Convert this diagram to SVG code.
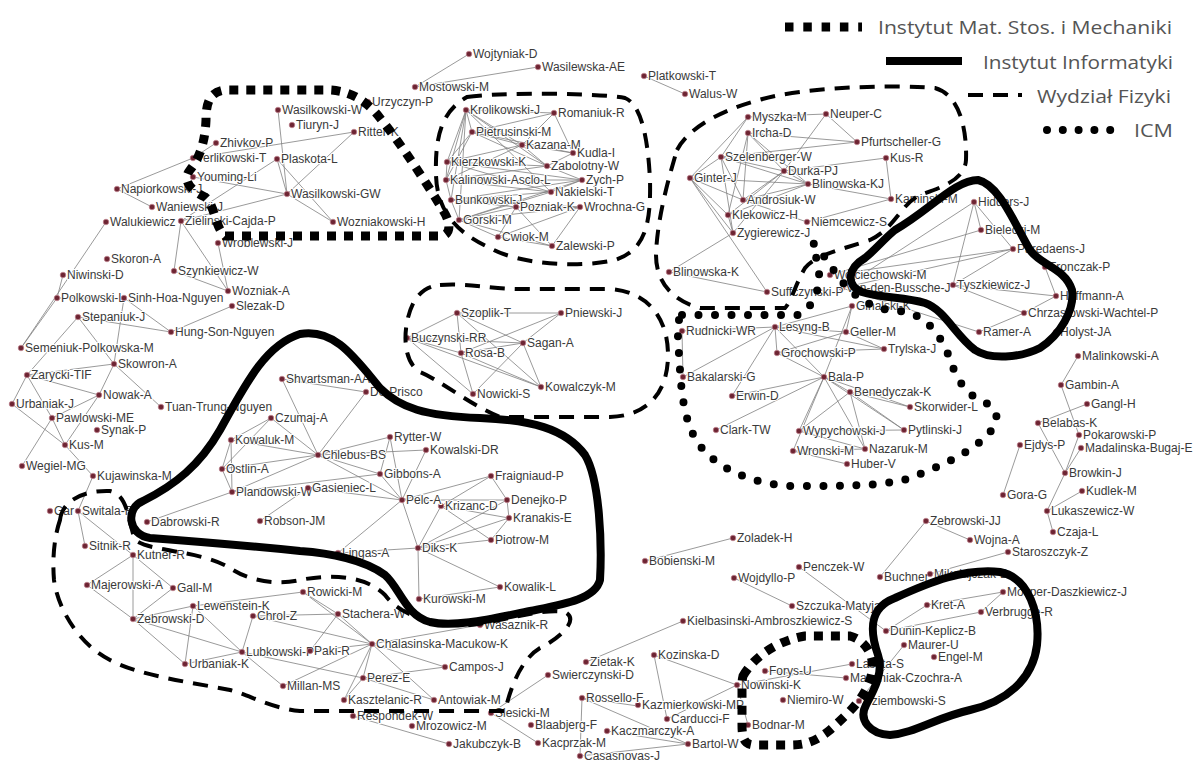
<svg xmlns="http://www.w3.org/2000/svg" width="1195" height="762" viewBox="0 0 1195 762">
<style>
.e line{stroke:#808080;stroke-width:.8}
.n circle{fill:#6e2533;stroke:#c48a95;stroke-width:.7}
.n text{font-family:"Liberation Sans",Arial,sans-serif;font-size:12px;fill:#3a3a3a;stroke:#fff;stroke-width:2px;paint-order:stroke;stroke-linejoin:round}
.b{fill:none;stroke:#000}
.mat{stroke-width:9;stroke-dasharray:9 8}
.inf{stroke-width:8;stroke-linejoin:round}
.fiz{stroke-width:4;stroke-dasharray:15 10}
.icm{stroke-width:8;stroke-dasharray:0 16.5;stroke-linecap:round}
.lg{font-family:"Open Sans","Liberation Sans",sans-serif;font-size:19px;fill:#555}
</style>
<rect width="1195" height="762" fill="#fff"/>
<g id="connectors" class="e">
<line x1="469" y1="54" x2="415" y2="87"/><line x1="538" y1="67" x2="415" y2="87"/><line x1="644" y1="76" x2="685" y2="94"/>
<line x1="216" y1="143" x2="193" y2="158"/><line x1="193" y1="158" x2="117" y2="189"/><line x1="193" y1="177" x2="287" y2="194"/>
<line x1="277" y1="159" x2="181" y2="221"/><line x1="287" y1="194" x2="181" y2="221"/><line x1="277" y1="159" x2="287" y2="194"/>
<line x1="277" y1="159" x2="333" y2="222"/><line x1="287" y1="194" x2="333" y2="222"/><line x1="278" y1="110" x2="287" y2="194"/>
<line x1="354" y1="132" x2="193" y2="158"/><line x1="354" y1="132" x2="287" y2="194"/><line x1="106" y1="222" x2="21" y2="348"/>
<line x1="181" y1="221" x2="174" y2="271"/><line x1="181" y1="221" x2="228" y2="291"/><line x1="174" y1="271" x2="228" y2="291"/>
<line x1="218" y1="243" x2="228" y2="291"/><line x1="152" y1="207" x2="117" y2="189"/>
<line x1="57" y1="298" x2="63" y2="275"/><line x1="57" y1="298" x2="124" y2="298"/><line x1="124" y1="298" x2="171" y2="332"/>
<line x1="78" y1="317" x2="171" y2="332"/><line x1="232" y1="306" x2="171" y2="332"/><line x1="78" y1="317" x2="27" y2="375"/>
<line x1="78" y1="317" x2="114" y2="364"/><line x1="124" y1="298" x2="114" y2="364"/><line x1="57" y1="298" x2="21" y2="348"/>
<line x1="114" y1="364" x2="27" y2="375"/><line x1="114" y1="364" x2="99" y2="395"/><line x1="114" y1="364" x2="161" y2="407"/>
<line x1="27" y1="375" x2="99" y2="395"/><line x1="27" y1="375" x2="12" y2="404"/><line x1="27" y1="375" x2="52" y2="418"/>
<line x1="12" y1="404" x2="65" y2="445"/><line x1="99" y1="395" x2="65" y2="445"/><line x1="99" y1="395" x2="52" y2="418"/>
<line x1="52" y1="418" x2="65" y2="445"/><line x1="52" y1="418" x2="22" y2="466"/><line x1="65" y1="445" x2="93" y2="476"/>
<line x1="93" y1="476" x2="78" y2="511"/>
<line x1="466" y1="110" x2="554" y2="113"/><line x1="466" y1="110" x2="472" y2="132"/><line x1="466" y1="110" x2="522" y2="145"/>
<line x1="466" y1="110" x2="447" y2="162"/><line x1="466" y1="110" x2="446" y2="180"/><line x1="466" y1="110" x2="451" y2="200"/>
<line x1="466" y1="110" x2="459" y2="220"/><line x1="466" y1="110" x2="547" y2="166"/><line x1="466" y1="110" x2="551" y2="192"/>
<line x1="554" y1="113" x2="472" y2="132"/><line x1="554" y1="113" x2="522" y2="145"/><line x1="554" y1="113" x2="573" y2="153"/>
<line x1="472" y1="132" x2="522" y2="145"/><line x1="472" y1="132" x2="447" y2="162"/><line x1="472" y1="132" x2="547" y2="166"/>
<line x1="472" y1="132" x2="573" y2="153"/><line x1="472" y1="132" x2="446" y2="180"/><line x1="522" y1="145" x2="447" y2="162"/>
<line x1="522" y1="145" x2="547" y2="166"/><line x1="522" y1="145" x2="573" y2="153"/><line x1="522" y1="145" x2="446" y2="180"/>
<line x1="447" y1="162" x2="547" y2="166"/><line x1="447" y1="162" x2="582" y2="180"/><line x1="447" y1="162" x2="551" y2="192"/>
<line x1="447" y1="162" x2="446" y2="180"/><line x1="446" y1="180" x2="582" y2="180"/><line x1="446" y1="180" x2="551" y2="192"/>
<line x1="446" y1="180" x2="547" y2="166"/><line x1="451" y1="200" x2="551" y2="192"/><line x1="451" y1="200" x2="582" y2="180"/>
<line x1="451" y1="200" x2="516" y2="207"/><line x1="459" y1="220" x2="516" y2="207"/><line x1="459" y1="220" x2="498" y2="237"/>
<line x1="459" y1="220" x2="552" y2="246"/><line x1="459" y1="220" x2="580" y2="207"/><line x1="459" y1="220" x2="551" y2="192"/>
<line x1="516" y1="207" x2="580" y2="207"/><line x1="516" y1="207" x2="552" y2="246"/><line x1="516" y1="207" x2="498" y2="237"/>
<line x1="498" y1="237" x2="552" y2="246"/><line x1="498" y1="237" x2="580" y2="207"/><line x1="580" y1="207" x2="552" y2="246"/>
<line x1="547" y1="166" x2="573" y2="153"/><line x1="547" y1="166" x2="582" y2="180"/><line x1="551" y1="192" x2="582" y2="180"/>
<line x1="451" y1="200" x2="459" y2="220"/><line x1="446" y1="180" x2="451" y2="200"/><line x1="459" y1="220" x2="582" y2="180"/>
<line x1="451" y1="200" x2="580" y2="207"/>
<line x1="748" y1="117" x2="826" y2="114"/><line x1="826" y1="114" x2="857" y2="142"/><line x1="826" y1="114" x2="784" y2="171"/>
<line x1="748" y1="133" x2="857" y2="142"/><line x1="721" y1="157" x2="857" y2="142"/><line x1="748" y1="117" x2="721" y2="157"/>
<line x1="690" y1="178" x2="748" y2="117"/><line x1="748" y1="133" x2="743" y2="200"/><line x1="748" y1="133" x2="728" y2="215"/>
<line x1="748" y1="133" x2="784" y2="171"/><line x1="748" y1="133" x2="808" y2="184"/><line x1="721" y1="157" x2="784" y2="171"/>
<line x1="721" y1="157" x2="808" y2="184"/><line x1="721" y1="157" x2="743" y2="200"/><line x1="784" y1="171" x2="808" y2="184"/>
<line x1="784" y1="171" x2="743" y2="200"/><line x1="784" y1="171" x2="886" y2="158"/><line x1="886" y1="158" x2="891" y2="199"/>
<line x1="808" y1="184" x2="891" y2="199"/><line x1="743" y1="200" x2="807" y2="222"/><line x1="891" y1="199" x2="807" y2="222"/>
<line x1="690" y1="178" x2="721" y2="157"/><line x1="690" y1="178" x2="808" y2="184"/><line x1="690" y1="178" x2="743" y2="200"/>
<line x1="690" y1="178" x2="733" y2="233"/><line x1="690" y1="178" x2="728" y2="215"/><line x1="728" y1="215" x2="733" y2="233"/>
<line x1="728" y1="215" x2="784" y2="171"/><line x1="733" y1="233" x2="784" y2="171"/><line x1="733" y1="233" x2="669" y2="272"/>
<line x1="690" y1="178" x2="767" y2="292"/><line x1="743" y1="200" x2="808" y2="184"/><line x1="728" y1="215" x2="808" y2="184"/>
<line x1="721" y1="157" x2="733" y2="233"/>
<line x1="669" y1="272" x2="767" y2="292"/><line x1="682" y1="331" x2="683" y2="377"/><line x1="682" y1="331" x2="775" y2="327"/>
<line x1="775" y1="327" x2="683" y2="377"/><line x1="775" y1="327" x2="732" y2="396"/><line x1="775" y1="327" x2="777" y2="353"/>
<line x1="775" y1="327" x2="846" y2="332"/><line x1="775" y1="327" x2="884" y2="349"/><line x1="775" y1="327" x2="824" y2="377"/>
<line x1="852" y1="306" x2="775" y2="327"/><line x1="852" y1="306" x2="846" y2="332"/><line x1="852" y1="306" x2="824" y2="377"/>
<line x1="846" y1="332" x2="884" y2="349"/><line x1="777" y1="353" x2="884" y2="349"/><line x1="777" y1="353" x2="846" y2="332"/>
<line x1="777" y1="353" x2="824" y2="377"/><line x1="824" y1="377" x2="732" y2="396"/><line x1="716" y1="430" x2="824" y2="377"/>
<line x1="824" y1="377" x2="850" y2="392"/><line x1="824" y1="377" x2="799" y2="431"/><line x1="824" y1="377" x2="793" y2="451"/>
<line x1="824" y1="377" x2="865" y2="449"/><line x1="824" y1="377" x2="910" y2="407"/><line x1="824" y1="377" x2="904" y2="430"/>
<line x1="850" y1="392" x2="799" y2="431"/><line x1="850" y1="392" x2="910" y2="407"/><line x1="850" y1="392" x2="865" y2="449"/>
<line x1="799" y1="431" x2="904" y2="430"/><line x1="793" y1="451" x2="847" y2="464"/><line x1="793" y1="451" x2="865" y2="449"/>
<line x1="799" y1="431" x2="865" y2="449"/><line x1="850" y1="392" x2="904" y2="430"/>
<line x1="974" y1="202" x2="981" y2="230"/><line x1="974" y1="202" x2="1013" y2="249"/><line x1="974" y1="202" x2="842" y2="288"/>
<line x1="974" y1="202" x2="953" y2="285"/><line x1="981" y1="230" x2="830" y2="275"/><line x1="1013" y1="249" x2="830" y2="275"/>
<line x1="1013" y1="249" x2="842" y2="288"/><line x1="842" y1="288" x2="979" y2="332"/><line x1="953" y1="285" x2="1056" y2="296"/>
<line x1="953" y1="285" x2="1024" y2="313"/><line x1="1024" y1="313" x2="1056" y2="296"/><line x1="1024" y1="313" x2="979" y2="332"/>
<line x1="1045" y1="267" x2="1056" y2="296"/><line x1="1013" y1="249" x2="953" y2="285"/>
<line x1="1078" y1="356" x2="1061" y2="385"/><line x1="1061" y1="385" x2="1079" y2="435"/><line x1="1038" y1="423" x2="1087" y2="404"/>
<line x1="1038" y1="423" x2="1065" y2="473"/><line x1="1079" y1="435" x2="1065" y2="473"/><line x1="1081" y1="448" x2="1065" y2="473"/>
<line x1="1065" y1="473" x2="1047" y2="511"/><line x1="1020" y1="445" x2="1003" y2="495"/><line x1="1047" y1="511" x2="1053" y2="532"/>
<line x1="926" y1="521" x2="880" y2="577"/><line x1="926" y1="521" x2="970" y2="540"/><line x1="1008" y1="552" x2="930" y2="574"/>
<line x1="1082" y1="491" x2="1047" y2="511"/>
<line x1="927" y1="605" x2="1003" y2="592"/><line x1="981" y1="612" x2="1003" y2="592"/><line x1="927" y1="605" x2="886" y2="631"/>
<line x1="886" y1="631" x2="981" y2="612"/><line x1="904" y1="645" x2="859" y2="701"/><line x1="765" y1="671" x2="846" y2="678"/>
<line x1="737" y1="685" x2="852" y2="664"/><line x1="737" y1="685" x2="748" y2="725"/><line x1="654" y1="655" x2="737" y2="685"/>
<line x1="654" y1="655" x2="667" y2="719"/><line x1="737" y1="685" x2="667" y2="719"/><line x1="582" y1="698" x2="638" y2="706"/>
<line x1="582" y1="698" x2="580" y2="756"/><line x1="582" y1="698" x2="688" y2="744"/><line x1="688" y1="744" x2="580" y2="756"/>
<line x1="688" y1="744" x2="607" y2="731"/><line x1="799" y1="567" x2="886" y2="631"/><line x1="734" y1="578" x2="792" y2="606"/>
<line x1="733" y1="538" x2="645" y2="561"/><line x1="683" y1="621" x2="586" y2="662"/><line x1="548" y1="675" x2="491" y2="713"/>
<line x1="491" y1="713" x2="538" y2="743"/>
<line x1="282" y1="379" x2="366" y2="392"/><line x1="282" y1="379" x2="318" y2="455"/><line x1="366" y1="392" x2="318" y2="455"/>
<line x1="271" y1="418" x2="231" y2="440"/><line x1="271" y1="418" x2="318" y2="455"/><line x1="271" y1="418" x2="222" y2="469"/>
<line x1="231" y1="440" x2="222" y2="469"/><line x1="231" y1="440" x2="318" y2="455"/><line x1="231" y1="440" x2="232" y2="492"/>
<line x1="222" y1="469" x2="232" y2="492"/><line x1="222" y1="469" x2="318" y2="455"/><line x1="232" y1="492" x2="318" y2="455"/>
<line x1="147" y1="522" x2="232" y2="492"/><line x1="260" y1="521" x2="308" y2="488"/><line x1="318" y1="455" x2="390" y2="437"/>
<line x1="318" y1="455" x2="426" y2="450"/><line x1="318" y1="455" x2="380" y2="474"/><line x1="318" y1="455" x2="402" y2="500"/>
<line x1="390" y1="437" x2="380" y2="474"/><line x1="390" y1="437" x2="402" y2="500"/><line x1="426" y1="450" x2="402" y2="500"/>
<line x1="380" y1="474" x2="402" y2="500"/><line x1="402" y1="500" x2="491" y2="476"/><line x1="308" y1="488" x2="402" y2="500"/>
<line x1="232" y1="492" x2="380" y2="474"/><line x1="491" y1="476" x2="507" y2="500"/><line x1="491" y1="476" x2="441" y2="506"/>
<line x1="402" y1="500" x2="507" y2="500"/><line x1="418" y1="548" x2="509" y2="518"/><line x1="418" y1="548" x2="507" y2="500"/>
<line x1="418" y1="548" x2="441" y2="506"/><line x1="418" y1="548" x2="491" y2="540"/><line x1="418" y1="548" x2="500" y2="587"/>
<line x1="418" y1="548" x2="419" y2="599"/><line x1="418" y1="548" x2="338" y2="553"/><line x1="338" y1="553" x2="402" y2="500"/>
<line x1="402" y1="500" x2="418" y2="548"/><line x1="509" y1="518" x2="491" y2="540"/><line x1="441" y1="506" x2="509" y2="518"/>
<line x1="507" y1="500" x2="509" y2="518"/><line x1="500" y1="587" x2="419" y2="599"/><line x1="441" y1="506" x2="491" y2="540"/>
<line x1="457" y1="313" x2="561" y2="313"/><line x1="457" y1="313" x2="407" y2="338"/><line x1="457" y1="313" x2="461" y2="353"/>
<line x1="457" y1="313" x2="523" y2="343"/><line x1="457" y1="313" x2="541" y2="387"/><line x1="561" y1="313" x2="461" y2="353"/>
<line x1="561" y1="313" x2="523" y2="343"/><line x1="407" y1="338" x2="523" y2="343"/><line x1="407" y1="338" x2="461" y2="353"/>
<line x1="407" y1="338" x2="541" y2="387"/><line x1="407" y1="338" x2="473" y2="394"/><line x1="461" y1="353" x2="473" y2="394"/>
<line x1="461" y1="353" x2="541" y2="387"/><line x1="523" y1="343" x2="473" y2="394"/><line x1="523" y1="343" x2="541" y2="387"/>
<line x1="523" y1="343" x2="461" y2="353"/>
<line x1="78" y1="511" x2="85" y2="546"/><line x1="78" y1="511" x2="133" y2="555"/><line x1="133" y1="555" x2="87" y2="585"/>
<line x1="133" y1="555" x2="133" y2="619"/><line x1="133" y1="555" x2="173" y2="588"/><line x1="87" y1="585" x2="133" y2="619"/>
<line x1="173" y1="588" x2="133" y2="619"/><line x1="193" y1="606" x2="133" y2="619"/><line x1="133" y1="619" x2="185" y2="664"/>
<line x1="133" y1="619" x2="242" y2="652"/><line x1="185" y1="664" x2="193" y2="606"/><line x1="193" y1="606" x2="242" y2="652"/>
<line x1="185" y1="664" x2="242" y2="652"/><line x1="253" y1="616" x2="242" y2="652"/><line x1="242" y1="652" x2="283" y2="686"/>
<line x1="193" y1="606" x2="303" y2="592"/><line x1="253" y1="616" x2="338" y2="614"/><line x1="303" y1="592" x2="372" y2="644"/>
<line x1="303" y1="592" x2="338" y2="614"/><line x1="338" y1="614" x2="372" y2="644"/><line x1="338" y1="614" x2="310" y2="651"/>
<line x1="372" y1="644" x2="310" y2="651"/><line x1="372" y1="644" x2="283" y2="686"/><line x1="372" y1="644" x2="363" y2="678"/>
<line x1="372" y1="644" x2="344" y2="700"/><line x1="372" y1="644" x2="445" y2="667"/><line x1="372" y1="644" x2="434" y2="700"/>
<line x1="363" y1="678" x2="445" y2="667"/><line x1="363" y1="678" x2="434" y2="700"/><line x1="363" y1="678" x2="344" y2="700"/>
<line x1="242" y1="652" x2="363" y2="678"/><line x1="253" y1="616" x2="372" y2="644"/><line x1="480" y1="625" x2="372" y2="644"/>
<line x1="353" y1="716" x2="449" y2="744"/>
</g>
<g id="nodes">
<g id="n-Wojtyniak-D" class="n" transform="translate(469,54)"><circle r="2.8"/><text x="4" y="4">Wojtyniak-D</text></g>
<g id="n-Wasilewska-AE" class="n" transform="translate(538,67)"><circle r="2.8"/><text x="4" y="4">Wasilewska-AE</text></g>
<g id="n-Mostowski-M" class="n" transform="translate(415,87)"><circle r="2.8"/><text x="4" y="4">Mostowski-M</text></g>
<g id="n-Platkowski-T" class="n" transform="translate(644,76)"><circle r="2.8"/><text x="4" y="4">Platkowski-T</text></g>
<g id="n-Walus-W" class="n" transform="translate(685,94)"><circle r="2.8"/><text x="4" y="4">Walus-W</text></g>
<g id="n-Urzyczyn-P" class="n" transform="translate(368,102)"><circle r="2.8"/><text x="4" y="4">Urzyczyn-P</text></g>
<g id="n-Wasilkowski-W" class="n" transform="translate(278,110)"><circle r="2.8"/><text x="4" y="4">Wasilkowski-W</text></g>
<g id="n-Tiuryn-J" class="n" transform="translate(292,125)"><circle r="2.8"/><text x="4" y="4">Tiuryn-J</text></g>
<g id="n-Ritter-K" class="n" transform="translate(354,132)"><circle r="2.8"/><text x="4" y="4">Ritter-K</text></g>
<g id="n-Zhivkov-P" class="n" transform="translate(216,143)"><circle r="2.8"/><text x="4" y="4">Zhivkov-P</text></g>
<g id="n-Terlikowski-T" class="n" transform="translate(193,158)"><circle r="2.8"/><text x="4" y="4">Terlikowski-T</text></g>
<g id="n-Plaskota-L" class="n" transform="translate(277,159)"><circle r="2.8"/><text x="4" y="4">Plaskota-L</text></g>
<g id="n-Youming-Li" class="n" transform="translate(193,177)"><circle r="2.8"/><text x="4" y="4">Youming-Li</text></g>
<g id="n-Napiorkowski-J" class="n" transform="translate(117,189)"><circle r="2.8"/><text x="4" y="4">Napiorkowski-J</text></g>
<g id="n-Wasilkowski-GW" class="n" transform="translate(287,194)"><circle r="2.8"/><text x="4" y="4">Wasilkowski-GW</text></g>
<g id="n-Waniewski-J" class="n" transform="translate(152,207)"><circle r="2.8"/><text x="4" y="4">Waniewski-J</text></g>
<g id="n-Walukiewicz" class="n" transform="translate(106,222)"><circle r="2.8"/><text x="4" y="4">Walukiewicz</text></g>
<g id="n-Zielinski-Cajda-P" class="n" transform="translate(181,221)"><circle r="2.8"/><text x="4" y="4">Zielinski-Cajda-P</text></g>
<g id="n-Wozniakowski-H" class="n" transform="translate(333,222)"><circle r="2.8"/><text x="4" y="4">Wozniakowski-H</text></g>
<g id="n-Wroblewski-J" class="n" transform="translate(218,243)"><circle r="2.8"/><text x="4" y="4">Wroblewski-J</text></g>
<g id="n-Krolikowski-J" class="n" transform="translate(466,110)"><circle r="2.8"/><text x="4" y="4">Krolikowski-J</text></g>
<g id="n-Romaniuk-R" class="n" transform="translate(554,113)"><circle r="2.8"/><text x="4" y="4">Romaniuk-R</text></g>
<g id="n-Pietrusinski-M" class="n" transform="translate(472,132)"><circle r="2.8"/><text x="4" y="4">Pietrusinski-M</text></g>
<g id="n-Kazana-M" class="n" transform="translate(522,145)"><circle r="2.8"/><text x="4" y="4">Kazana-M</text></g>
<g id="n-Kudla-I" class="n" transform="translate(573,153)"><circle r="2.8"/><text x="4" y="4">Kudla-I</text></g>
<g id="n-Kierzkowski-K" class="n" transform="translate(447,162)"><circle r="2.8"/><text x="4" y="4">Kierzkowski-K</text></g>
<g id="n-Zabolotny-W" class="n" transform="translate(547,166)"><circle r="2.8"/><text x="4" y="4">Zabolotny-W</text></g>
<g id="n-Kalinowski-Asclo-L" class="n" transform="translate(446,180)"><circle r="2.8"/><text x="4" y="4">Kalinowski-Asclo-L</text></g>
<g id="n-Zych-P" class="n" transform="translate(582,180)"><circle r="2.8"/><text x="4" y="4">Zych-P</text></g>
<g id="n-Nakielski-T" class="n" transform="translate(551,192)"><circle r="2.8"/><text x="4" y="4">Nakielski-T</text></g>
<g id="n-Bunkowski-J" class="n" transform="translate(451,200)"><circle r="2.8"/><text x="4" y="4">Bunkowski-J</text></g>
<g id="n-Pozniak-K" class="n" transform="translate(516,207)"><circle r="2.8"/><text x="4" y="4">Pozniak-K</text></g>
<g id="n-Wrochna-G" class="n" transform="translate(580,207)"><circle r="2.8"/><text x="4" y="4">Wrochna-G</text></g>
<g id="n-Gorski-M" class="n" transform="translate(459,220)"><circle r="2.8"/><text x="4" y="4">Gorski-M</text></g>
<g id="n-Cwiok-M" class="n" transform="translate(498,237)"><circle r="2.8"/><text x="4" y="4">Cwiok-M</text></g>
<g id="n-Zalewski-P" class="n" transform="translate(552,246)"><circle r="2.8"/><text x="4" y="4">Zalewski-P</text></g>
<g id="n-Myszka-M" class="n" transform="translate(748,117)"><circle r="2.8"/><text x="4" y="4">Myszka-M</text></g>
<g id="n-Neuper-C" class="n" transform="translate(826,114)"><circle r="2.8"/><text x="4" y="4">Neuper-C</text></g>
<g id="n-Ircha-D" class="n" transform="translate(748,133)"><circle r="2.8"/><text x="4" y="4">Ircha-D</text></g>
<g id="n-Pfurtscheller-G" class="n" transform="translate(857,142)"><circle r="2.8"/><text x="4" y="4">Pfurtscheller-G</text></g>
<g id="n-Kus-R" class="n" transform="translate(886,158)"><circle r="2.8"/><text x="4" y="4">Kus-R</text></g>
<g id="n-Szelenberger-W" class="n" transform="translate(721,157)"><circle r="2.8"/><text x="4" y="4">Szelenberger-W</text></g>
<g id="n-Durka-PJ" class="n" transform="translate(784,171)"><circle r="2.8"/><text x="4" y="4">Durka-PJ</text></g>
<g id="n-Ginter-J" class="n" transform="translate(690,178)"><circle r="2.8"/><text x="4" y="4">Ginter-J</text></g>
<g id="n-Blinowska-KJ" class="n" transform="translate(808,184)"><circle r="2.8"/><text x="4" y="4">Blinowska-KJ</text></g>
<g id="n-Androsiuk-W" class="n" transform="translate(743,200)"><circle r="2.8"/><text x="4" y="4">Androsiuk-W</text></g>
<g id="n-Kaminski-M" class="n" transform="translate(891,199)"><circle r="2.8"/><text x="4" y="4">Kaminski-M</text></g>
<g id="n-Klekowicz-H" class="n" transform="translate(728,215)"><circle r="2.8"/><text x="4" y="4">Klekowicz-H</text></g>
<g id="n-Niemcewicz-S" class="n" transform="translate(807,222)"><circle r="2.8"/><text x="4" y="4">Niemcewicz-S</text></g>
<g id="n-Zygierewicz-J" class="n" transform="translate(733,233)"><circle r="2.8"/><text x="4" y="4">Zygierewicz-J</text></g>
<g id="n-Hidders-J" class="n" transform="translate(974,202)"><circle r="2.8"/><text x="4" y="4">Hidders-J</text></g>
<g id="n-Bielecki-M" class="n" transform="translate(981,230)"><circle r="2.8"/><text x="4" y="4">Bielecki-M</text></g>
<g id="n-Paredaens-J" class="n" transform="translate(1013,249)"><circle r="2.8"/><text x="4" y="4">Paredaens-J</text></g>
<g id="n-Fronczak-P" class="n" transform="translate(1045,267)"><circle r="2.8"/><text x="4" y="4">Fronczak-P</text></g>
<g id="n-Wojciechowski-M" class="n" transform="translate(830,275)"><circle r="2.8"/><text x="4" y="4">Wojciechowski-M</text></g>
<g id="n-Van-den-Bussche-J" class="n" transform="translate(842,288)"><circle r="2.8"/><text x="4" y="4">Van-den-Bussche-J</text></g>
<g id="n-Tyszkiewicz-J" class="n" transform="translate(953,285)"><circle r="2.8"/><text x="4" y="4">Tyszkiewicz-J</text></g>
<g id="n-Hoffmann-A" class="n" transform="translate(1056,296)"><circle r="2.8"/><text x="4" y="4">Hoffmann-A</text></g>
<g id="n-Chrzastowski-Wachtel-P" class="n" transform="translate(1024,313)"><circle r="2.8"/><text x="4" y="4">Chrzastowski-Wachtel-P</text></g>
<g id="n-Ramer-A" class="n" transform="translate(979,332)"><circle r="2.8"/><text x="4" y="4">Ramer-A</text></g>
<g id="n-Holyst-JA" class="n" transform="translate(1056,332)"><circle r="2.8"/><text x="4" y="4">Holyst-JA</text></g>
<g id="n-Malinkowski-A" class="n" transform="translate(1078,356)"><circle r="2.8"/><text x="4" y="4">Malinkowski-A</text></g>
<g id="n-Gambin-A" class="n" transform="translate(1061,385)"><circle r="2.8"/><text x="4" y="4">Gambin-A</text></g>
<g id="n-Gangl-H" class="n" transform="translate(1087,404)"><circle r="2.8"/><text x="4" y="4">Gangl-H</text></g>
<g id="n-Belabas-K" class="n" transform="translate(1038,423)"><circle r="2.8"/><text x="4" y="4">Belabas-K</text></g>
<g id="n-Pokarowski-P" class="n" transform="translate(1079,435)"><circle r="2.8"/><text x="4" y="4">Pokarowski-P</text></g>
<g id="n-Madalinska-Bugaj-E" class="n" transform="translate(1081,448)"><circle r="2.8"/><text x="4" y="4">Madalinska-Bugaj-E</text></g>
<g id="n-Ejdys-P" class="n" transform="translate(1020,445)"><circle r="2.8"/><text x="4" y="4">Ejdys-P</text></g>
<g id="n-Browkin-J" class="n" transform="translate(1065,473)"><circle r="2.8"/><text x="4" y="4">Browkin-J</text></g>
<g id="n-Kudlek-M" class="n" transform="translate(1082,491)"><circle r="2.8"/><text x="4" y="4">Kudlek-M</text></g>
<g id="n-Gora-G" class="n" transform="translate(1003,495)"><circle r="2.8"/><text x="4" y="4">Gora-G</text></g>
<g id="n-Lukaszewicz-W" class="n" transform="translate(1047,511)"><circle r="2.8"/><text x="4" y="4">Lukaszewicz-W</text></g>
<g id="n-Czaja-L" class="n" transform="translate(1053,532)"><circle r="2.8"/><text x="4" y="4">Czaja-L</text></g>
<g id="n-Zebrowski-JJ" class="n" transform="translate(926,521)"><circle r="2.8"/><text x="4" y="4">Zebrowski-JJ</text></g>
<g id="n-Wojna-A" class="n" transform="translate(970,540)"><circle r="2.8"/><text x="4" y="4">Wojna-A</text></g>
<g id="n-Staroszczyk-Z" class="n" transform="translate(1008,552)"><circle r="2.8"/><text x="4" y="4">Staroszczyk-Z</text></g>
<g id="n-Buchner" class="n" transform="translate(880,577)"><circle r="2.8"/><text x="4" y="4">Buchner</text></g>
<g id="n-Mikolajczak-B" class="n" transform="translate(930,574)"><circle r="2.8"/><text x="4" y="4">Mikolajczak-B</text></g>
<g id="n-Mosper-Daszkiewicz-J" class="n" transform="translate(1003,592)"><circle r="2.8"/><text x="4" y="4">Mosper-Daszkiewicz-J</text></g>
<g id="n-Kret-A" class="n" transform="translate(927,605)"><circle r="2.8"/><text x="4" y="4">Kret-A</text></g>
<g id="n-Verbrugge-R" class="n" transform="translate(981,612)"><circle r="2.8"/><text x="4" y="4">Verbrugge-R</text></g>
<g id="n-Dunin-Keplicz-B" class="n" transform="translate(886,631)"><circle r="2.8"/><text x="4" y="4">Dunin-Keplicz-B</text></g>
<g id="n-Maurer-U" class="n" transform="translate(904,645)"><circle r="2.8"/><text x="4" y="4">Maurer-U</text></g>
<g id="n-Engel-M" class="n" transform="translate(934,657)"><circle r="2.8"/><text x="4" y="4">Engel-M</text></g>
<g id="n-Lasota-S" class="n" transform="translate(852,664)"><circle r="2.8"/><text x="4" y="4">Lasota-S</text></g>
<g id="n-Marciniak-Czochra-A" class="n" transform="translate(846,678)"><circle r="2.8"/><text x="4" y="4">Marciniak-Czochra-A</text></g>
<g id="n-Dziembowski-S" class="n" transform="translate(859,701)"><circle r="2.8"/><text x="4" y="4">Dziembowski-S</text></g>
<g id="n-Forys-U" class="n" transform="translate(765,671)"><circle r="2.8"/><text x="4" y="4">Forys-U</text></g>
<g id="n-Nowinski-K" class="n" transform="translate(737,685)"><circle r="2.8"/><text x="4" y="4">Nowinski-K</text></g>
<g id="n-Niemiro-W" class="n" transform="translate(783,700)"><circle r="2.8"/><text x="4" y="4">Niemiro-W</text></g>
<g id="n-Bodnar-M" class="n" transform="translate(748,725)"><circle r="2.8"/><text x="4" y="4">Bodnar-M</text></g>
<g id="n-Kozinska-D" class="n" transform="translate(654,655)"><circle r="2.8"/><text x="4" y="4">Kozinska-D</text></g>
<g id="n-Kazmierkowski-MP" class="n" transform="translate(638,705)"><circle r="2.8"/><text x="4" y="4">Kazmierkowski-MP</text></g>
<g id="n-Carducci-F" class="n" transform="translate(667,719)"><circle r="2.8"/><text x="4" y="4">Carducci-F</text></g>
<g id="n-Kaczmarczyk-A" class="n" transform="translate(607,731)"><circle r="2.8"/><text x="4" y="4">Kaczmarczyk-A</text></g>
<g id="n-Bartol-W" class="n" transform="translate(688,744)"><circle r="2.8"/><text x="4" y="4">Bartol-W</text></g>
<g id="n-Casasnovas-J" class="n" transform="translate(580,756)"><circle r="2.8"/><text x="4" y="4">Casasnovas-J</text></g>
<g id="n-Kacprzak-M" class="n" transform="translate(538,743)"><circle r="2.8"/><text x="4" y="4">Kacprzak-M</text></g>
<g id="n-Blaabjerg-F" class="n" transform="translate(531,725)"><circle r="2.8"/><text x="4" y="4">Blaabjerg-F</text></g>
<g id="n-Rossello-F" class="n" transform="translate(582,698)"><circle r="2.8"/><text x="4" y="4">Rossello-F</text></g>
<g id="n-Swierczynski-D" class="n" transform="translate(548,675)"><circle r="2.8"/><text x="4" y="4">Swierczynski-D</text></g>
<g id="n-Zietak-K" class="n" transform="translate(586,662)"><circle r="2.8"/><text x="4" y="4">Zietak-K</text></g>
<g id="n-Slesicki-M" class="n" transform="translate(491,713)"><circle r="2.8"/><text x="4" y="4">Slesicki-M</text></g>
<g id="n-Jakubczyk-B" class="n" transform="translate(449,744)"><circle r="2.8"/><text x="4" y="4">Jakubczyk-B</text></g>
<g id="n-Mrozowicz-M" class="n" transform="translate(412,726)"><circle r="2.8"/><text x="4" y="4">Mrozowicz-M</text></g>
<g id="n-Respondek-W" class="n" transform="translate(353,716)"><circle r="2.8"/><text x="4" y="4">Respondek-W</text></g>
<g id="n-Kasztelanic-R" class="n" transform="translate(344,700)"><circle r="2.8"/><text x="4" y="4">Kasztelanic-R</text></g>
<g id="n-Antowiak-M" class="n" transform="translate(434,700)"><circle r="2.8"/><text x="4" y="4">Antowiak-M</text></g>
<g id="n-Perez-E" class="n" transform="translate(363,678)"><circle r="2.8"/><text x="4" y="4">Perez-E</text></g>
<g id="n-Campos-J" class="n" transform="translate(445,667)"><circle r="2.8"/><text x="4" y="4">Campos-J</text></g>
<g id="n-Chalasinska-Macukow-K" class="n" transform="translate(372,644)"><circle r="2.8"/><text x="4" y="4">Chalasinska-Macukow-K</text></g>
<g id="n-Wasaznik-R" class="n" transform="translate(480,625)"><circle r="2.8"/><text x="4" y="4">Wasaznik-R</text></g>
<g id="n-Stachera-W" class="n" transform="translate(338,614)"><circle r="2.8"/><text x="4" y="4">Stachera-W</text></g>
<g id="n-Rowicki-M" class="n" transform="translate(303,592)"><circle r="2.8"/><text x="4" y="4">Rowicki-M</text></g>
<g id="n-Kurowski-M" class="n" transform="translate(419,599)"><circle r="2.8"/><text x="4" y="4">Kurowski-M</text></g>
<g id="n-Kowalik-L" class="n" transform="translate(500,587)"><circle r="2.8"/><text x="4" y="4">Kowalik-L</text></g>
<g id="n-Lingas-A" class="n" transform="translate(338,553)"><circle r="2.8"/><text x="4" y="4">Lingas-A</text></g>
<g id="n-Diks-K" class="n" transform="translate(418,548)"><circle r="2.8"/><text x="4" y="4">Diks-K</text></g>
<g id="n-Piotrow-M" class="n" transform="translate(491,540)"><circle r="2.8"/><text x="4" y="4">Piotrow-M</text></g>
<g id="n-Kranakis-E" class="n" transform="translate(509,518)"><circle r="2.8"/><text x="4" y="4">Kranakis-E</text></g>
<g id="n-Krizanc-D" class="n" transform="translate(441,506)"><circle r="2.8"/><text x="4" y="4">Krizanc-D</text></g>
<g id="n-Denejko-P" class="n" transform="translate(507,500)"><circle r="2.8"/><text x="4" y="4">Denejko-P</text></g>
<g id="n-Fraigniaud-P" class="n" transform="translate(491,476)"><circle r="2.8"/><text x="4" y="4">Fraigniaud-P</text></g>
<g id="n-Pelc-A" class="n" transform="translate(402,500)"><circle r="2.8"/><text x="4" y="4">Pelc-A</text></g>
<g id="n-Gibbons-A" class="n" transform="translate(380,474)"><circle r="2.8"/><text x="4" y="4">Gibbons-A</text></g>
<g id="n-Kowalski-DR" class="n" transform="translate(426,450)"><circle r="2.8"/><text x="4" y="4">Kowalski-DR</text></g>
<g id="n-Rytter-W" class="n" transform="translate(390,437)"><circle r="2.8"/><text x="4" y="4">Rytter-W</text></g>
<g id="n-Chlebus-BS" class="n" transform="translate(318,455)"><circle r="2.8"/><text x="4" y="4">Chlebus-BS</text></g>
<g id="n-De-Prisco" class="n" transform="translate(366,392)"><circle r="2.8"/><text x="4" y="4">De-Prisco</text></g>
<g id="n-Shvartsman-AA" class="n" transform="translate(282,379)"><circle r="2.8"/><text x="4" y="4">Shvartsman-AA</text></g>
<g id="n-Czumaj-A" class="n" transform="translate(271,418)"><circle r="2.8"/><text x="4" y="4">Czumaj-A</text></g>
<g id="n-Kowaluk-M" class="n" transform="translate(231,440)"><circle r="2.8"/><text x="4" y="4">Kowaluk-M</text></g>
<g id="n-Ostlin-A" class="n" transform="translate(222,469)"><circle r="2.8"/><text x="4" y="4">Ostlin-A</text></g>
<g id="n-Plandowski-W" class="n" transform="translate(232,492)"><circle r="2.8"/><text x="4" y="4">Plandowski-W</text></g>
<g id="n-Gasieniec-L" class="n" transform="translate(308,488)"><circle r="2.8"/><text x="4" y="4">Gasieniec-L</text></g>
<g id="n-Robson-JM" class="n" transform="translate(260,521)"><circle r="2.8"/><text x="4" y="4">Robson-JM</text></g>
<g id="n-Dabrowski-R" class="n" transform="translate(147,522)"><circle r="2.8"/><text x="4" y="4">Dabrowski-R</text></g>
<g id="n-Szoplik-T" class="n" transform="translate(457,313)"><circle r="2.8"/><text x="4" y="4">Szoplik-T</text></g>
<g id="n-Pniewski-J" class="n" transform="translate(561,313)"><circle r="2.8"/><text x="4" y="4">Pniewski-J</text></g>
<g id="n-Buczynski-RR" class="n" transform="translate(407,338)"><circle r="2.8"/><text x="4" y="4">Buczynski-RR</text></g>
<g id="n-Sagan-A" class="n" transform="translate(523,343)"><circle r="2.8"/><text x="4" y="4">Sagan-A</text></g>
<g id="n-Rosa-B" class="n" transform="translate(461,353)"><circle r="2.8"/><text x="4" y="4">Rosa-B</text></g>
<g id="n-Kowalczyk-M" class="n" transform="translate(541,387)"><circle r="2.8"/><text x="4" y="4">Kowalczyk-M</text></g>
<g id="n-Nowicki-S" class="n" transform="translate(473,394)"><circle r="2.8"/><text x="4" y="4">Nowicki-S</text></g>
<g id="n-Blinowska-K" class="n" transform="translate(669,272)"><circle r="2.8"/><text x="4" y="4">Blinowska-K</text></g>
<g id="n-Suffczynski-P" class="n" transform="translate(767,292)"><circle r="2.8"/><text x="4" y="4">Suffczynski-P</text></g>
<g id="n-Rudnicki-WR" class="n" transform="translate(682,331)"><circle r="2.8"/><text x="4" y="4">Rudnicki-WR</text></g>
<g id="n-Lesyng-B" class="n" transform="translate(775,327)"><circle r="2.8"/><text x="4" y="4">Lesyng-B</text></g>
<g id="n-Ginalski-K" class="n" transform="translate(852,306)"><circle r="2.8"/><text x="4" y="4">Ginalski-K</text></g>
<g id="n-Geller-M" class="n" transform="translate(846,332)"><circle r="2.8"/><text x="4" y="4">Geller-M</text></g>
<g id="n-Trylska-J" class="n" transform="translate(884,349)"><circle r="2.8"/><text x="4" y="4">Trylska-J</text></g>
<g id="n-Grochowski-P" class="n" transform="translate(777,353)"><circle r="2.8"/><text x="4" y="4">Grochowski-P</text></g>
<g id="n-Bakalarski-G" class="n" transform="translate(683,377)"><circle r="2.8"/><text x="4" y="4">Bakalarski-G</text></g>
<g id="n-Bala-P" class="n" transform="translate(824,377)"><circle r="2.8"/><text x="4" y="4">Bala-P</text></g>
<g id="n-Erwin-D" class="n" transform="translate(732,396)"><circle r="2.8"/><text x="4" y="4">Erwin-D</text></g>
<g id="n-Benedyczak-K" class="n" transform="translate(850,392)"><circle r="2.8"/><text x="4" y="4">Benedyczak-K</text></g>
<g id="n-Skorwider-L" class="n" transform="translate(910,407)"><circle r="2.8"/><text x="4" y="4">Skorwider-L</text></g>
<g id="n-Clark-TW" class="n" transform="translate(716,430)"><circle r="2.8"/><text x="4" y="4">Clark-TW</text></g>
<g id="n-Wypychowski-J" class="n" transform="translate(799,431)"><circle r="2.8"/><text x="4" y="4">Wypychowski-J</text></g>
<g id="n-Pytlinski-J" class="n" transform="translate(904,430)"><circle r="2.8"/><text x="4" y="4">Pytlinski-J</text></g>
<g id="n-Wronski-M" class="n" transform="translate(793,451)"><circle r="2.8"/><text x="4" y="4">Wronski-M</text></g>
<g id="n-Nazaruk-M" class="n" transform="translate(865,449)"><circle r="2.8"/><text x="4" y="4">Nazaruk-M</text></g>
<g id="n-Huber-V" class="n" transform="translate(847,464)"><circle r="2.8"/><text x="4" y="4">Huber-V</text></g>
<g id="n-Zoladek-H" class="n" transform="translate(733,538)"><circle r="2.8"/><text x="4" y="4">Zoladek-H</text></g>
<g id="n-Bobienski-M" class="n" transform="translate(645,561)"><circle r="2.8"/><text x="4" y="4">Bobienski-M</text></g>
<g id="n-Penczek-W" class="n" transform="translate(799,567)"><circle r="2.8"/><text x="4" y="4">Penczek-W</text></g>
<g id="n-Wojdyllo-P" class="n" transform="translate(734,578)"><circle r="2.8"/><text x="4" y="4">Wojdyllo-P</text></g>
<g id="n-Szczuka-Matyja" class="n" transform="translate(792,606)"><circle r="2.8"/><text x="4" y="4">Szczuka-Matyja</text></g>
<g id="n-Kielbasinski-Ambroszkiewicz-S" class="n" transform="translate(683,621)"><circle r="2.8"/><text x="4" y="4">Kielbasinski-Ambroszkiewicz-S</text></g>
<g id="n-Skoron-A" class="n" transform="translate(107,259)"><circle r="2.8"/><text x="4" y="4">Skoron-A</text></g>
<g id="n-Niwinski-D" class="n" transform="translate(63,275)"><circle r="2.8"/><text x="4" y="4">Niwinski-D</text></g>
<g id="n-Szynkiewicz-W" class="n" transform="translate(174,271)"><circle r="2.8"/><text x="4" y="4">Szynkiewicz-W</text></g>
<g id="n-Wozniak-A" class="n" transform="translate(228,291)"><circle r="2.8"/><text x="4" y="4">Wozniak-A</text></g>
<g id="n-Slezak-D" class="n" transform="translate(232,306)"><circle r="2.8"/><text x="4" y="4">Slezak-D</text></g>
<g id="n-Polkowski-L" class="n" transform="translate(57,298)"><circle r="2.8"/><text x="4" y="4">Polkowski-L</text></g>
<g id="n-Sinh-Hoa-Nguyen" class="n" transform="translate(124,298)"><circle r="2.8"/><text x="4" y="4">Sinh-Hoa-Nguyen</text></g>
<g id="n-Stepaniuk-J" class="n" transform="translate(78,317)"><circle r="2.8"/><text x="4" y="4">Stepaniuk-J</text></g>
<g id="n-Hung-Son-Nguyen" class="n" transform="translate(171,332)"><circle r="2.8"/><text x="4" y="4">Hung-Son-Nguyen</text></g>
<g id="n-Semeniuk-Polkowska-M" class="n" transform="translate(21,348)"><circle r="2.8"/><text x="4" y="4">Semeniuk-Polkowska-M</text></g>
<g id="n-Skowron-A" class="n" transform="translate(114,364)"><circle r="2.8"/><text x="4" y="4">Skowron-A</text></g>
<g id="n-Zarycki-TIF" class="n" transform="translate(27,375)"><circle r="2.8"/><text x="4" y="4">Zarycki-TIF</text></g>
<g id="n-Nowak-A" class="n" transform="translate(99,395)"><circle r="2.8"/><text x="4" y="4">Nowak-A</text></g>
<g id="n-Urbaniak-J" class="n" transform="translate(12,404)"><circle r="2.8"/><text x="4" y="4">Urbaniak-J</text></g>
<g id="n-Tuan-Trung-Nguyen" class="n" transform="translate(161,407)"><circle r="2.8"/><text x="4" y="4">Tuan-Trung-Nguyen</text></g>
<g id="n-Pawlowski-ME" class="n" transform="translate(52,418)"><circle r="2.8"/><text x="4" y="4">Pawlowski-ME</text></g>
<g id="n-Synak-P" class="n" transform="translate(97,430)"><circle r="2.8"/><text x="4" y="4">Synak-P</text></g>
<g id="n-Kus-M" class="n" transform="translate(65,445)"><circle r="2.8"/><text x="4" y="4">Kus-M</text></g>
<g id="n-Wegiel-MG" class="n" transform="translate(22,466)"><circle r="2.8"/><text x="4" y="4">Wegiel-MG</text></g>
<g id="n-Kujawinska-M" class="n" transform="translate(93,476)"><circle r="2.8"/><text x="4" y="4">Kujawinska-M</text></g>
<g id="n-Gar" class="n" transform="translate(50,511)"><circle r="2.8"/><text x="4" y="4">Gar</text></g>
<g id="n-Switala-F" class="n" transform="translate(78,511)"><circle r="2.8"/><text x="4" y="4">Switala-F</text></g>
<g id="n-Sitnik-R" class="n" transform="translate(85,546)"><circle r="2.8"/><text x="4" y="4">Sitnik-R</text></g>
<g id="n-Kutner-R" class="n" transform="translate(133,555)"><circle r="2.8"/><text x="4" y="4">Kutner-R</text></g>
<g id="n-Majerowski-A" class="n" transform="translate(87,585)"><circle r="2.8"/><text x="4" y="4">Majerowski-A</text></g>
<g id="n-Gall-M" class="n" transform="translate(173,588)"><circle r="2.8"/><text x="4" y="4">Gall-M</text></g>
<g id="n-Lewenstein-K" class="n" transform="translate(193,606)"><circle r="2.8"/><text x="4" y="4">Lewenstein-K</text></g>
<g id="n-Zebrowski-D" class="n" transform="translate(133,619)"><circle r="2.8"/><text x="4" y="4">Zebrowski-D</text></g>
<g id="n-Chrol-Z" class="n" transform="translate(253,616)"><circle r="2.8"/><text x="4" y="4">Chrol-Z</text></g>
<g id="n-Lubkowski-P" class="n" transform="translate(242,652)"><circle r="2.8"/><text x="4" y="4">Lubkowski-P</text></g>
<g id="n-Paki-R" class="n" transform="translate(310,651)"><circle r="2.8"/><text x="4" y="4">Paki-R</text></g>
<g id="n-Urbaniak-K" class="n" transform="translate(185,664)"><circle r="2.8"/><text x="4" y="4">Urbaniak-K</text></g>
<g id="n-Millan-MS" class="n" transform="translate(283,686)"><circle r="2.8"/><text x="4" y="4">Millan-MS</text></g>
</g>
<g id="boundaries">
<path class="b mat" d="M225,236 L440,236 C450,236 452,225 444,212 C425,180 398,140 380,118 C366,100 350,91 330,90 L225,90 C210,92 206,102 206,120 C205,145 198,160 190,170 C182,180 190,190 205,197 C215,204 214,226 225,236 Z"/>
<path class="b mat" d="M743,676 C755,655 780,640 805,636 L850,636 C865,640 875,655 872,672 C868,695 850,712 830,730 C815,742 805,745 790,745 L755,745 C745,745 742,740 742,725 L742,690 C742,683 742,680 743,676 Z"/>
<path class="b inf" d="M143,501 C175,485 200,465 220,430 C245,385 265,345 300,334 C335,328 355,358 380,388 C400,408 425,416 480,418 C530,420 565,428 585,455 C600,480 602,545 600,580 C595,600 560,605 530,611 C495,618 455,628 430,622 C405,615 400,588 385,575 C365,560 330,553 300,551 C250,546 190,541 150,538 C128,535 125,508 143,501 Z"/>
<path class="b inf" d="M895,230 C930,210 955,180 978,180 C1000,185 1015,225 1030,250 C1040,265 1065,268 1072,290 C1075,310 1060,335 1040,348 C1020,358 990,360 975,350 C955,335 945,310 925,303 C905,297 880,298 862,292 C845,285 848,268 865,258 C875,250 885,238 895,230 Z"/>
<path class="b inf" d="M895,598 C930,582 965,568 1000,572 C1030,578 1040,615 1037,645 C1033,680 1005,702 970,710 C935,718 915,733 890,735 C870,734 858,720 866,705 C874,690 884,672 878,655 C870,632 868,608 895,598 Z"/>
<path class="b fiz" d="M467,97 C500,92 600,93 625,98 C642,105 648,140 650,180 C651,225 645,250 615,260 C580,268 520,265 490,248 C455,232 437,210 436,175 C435,140 440,112 467,97 Z"/>
<path class="b fiz" d="M677,150 C690,125 730,105 780,95 C830,86 900,85 935,88 C960,95 967,130 966,160 C965,180 940,188 920,195 C900,205 895,228 870,240 C840,250 815,255 805,268 C795,285 792,300 785,308 L700,308 C670,300 656,280 656,255 C657,220 668,180 677,150 Z"/>
<path class="b fiz" d="M440,285 C470,283 490,289 520,289 L610,289 C650,292 668,320 668,355 C668,395 645,416 610,417 L500,417 C470,405 440,380 420,372 C400,360 403,320 415,300 C422,290 430,286 440,285 Z"/>
<path class="b fiz" d="M60,520 C62,500 85,490 110,491 C128,495 128,520 135,540 C150,552 200,550 230,568 C250,582 280,585 300,580 C330,574 365,575 385,595 C400,615 430,625 470,625 C500,622 540,608 565,612 C580,620 560,638 540,648 C520,660 510,690 505,711 L300,711 C270,708 250,695 230,690 C190,682 140,676 110,660 C80,645 58,610 54,580 C52,555 55,535 60,520 Z"/>
<path class="b icm" d="M682,315 L800,315 C815,305 822,285 818,265 C815,252 812,245 813,243 C825,255 832,270 845,285 C860,302 880,311 899,311 C922,313 938,330 948,354 C955,375 963,392 980,400 C995,406 1003,418 990,432 C975,450 945,465 907,479 C880,486 850,486 790,486 C750,484 712,466 696,440 C682,415 681,385 679,355 C678,335 676,320 682,315 Z"/>
</g>
<g id="legend">
<line class="b mat" x1="785" y1="27" x2="862" y2="27" style="stroke-dasharray:8.5 9.8"/>
<text class="lg" x="878" y="34" textLength="294" lengthAdjust="spacingAndGlyphs">Instytut Mat. Stos. i Mechaniki</text>
<line class="b inf" x1="886" y1="61" x2="962" y2="61"/>
<text class="lg" x="983" y="69" textLength="190" lengthAdjust="spacingAndGlyphs">Instytut Informatyki</text>
<line class="b fiz" x1="968" y1="95" x2="1022" y2="95"/>
<text class="lg" x="1037" y="103" textLength="134" lengthAdjust="spacingAndGlyphs">Wydział Fizyki</text>
<line class="b icm" x1="1047" y1="130" x2="1126" y2="130" style="stroke-dasharray:0 15.8"/>
<text class="lg" x="1134" y="137" textLength="39" lengthAdjust="spacingAndGlyphs">ICM</text>
</g>
</svg>
